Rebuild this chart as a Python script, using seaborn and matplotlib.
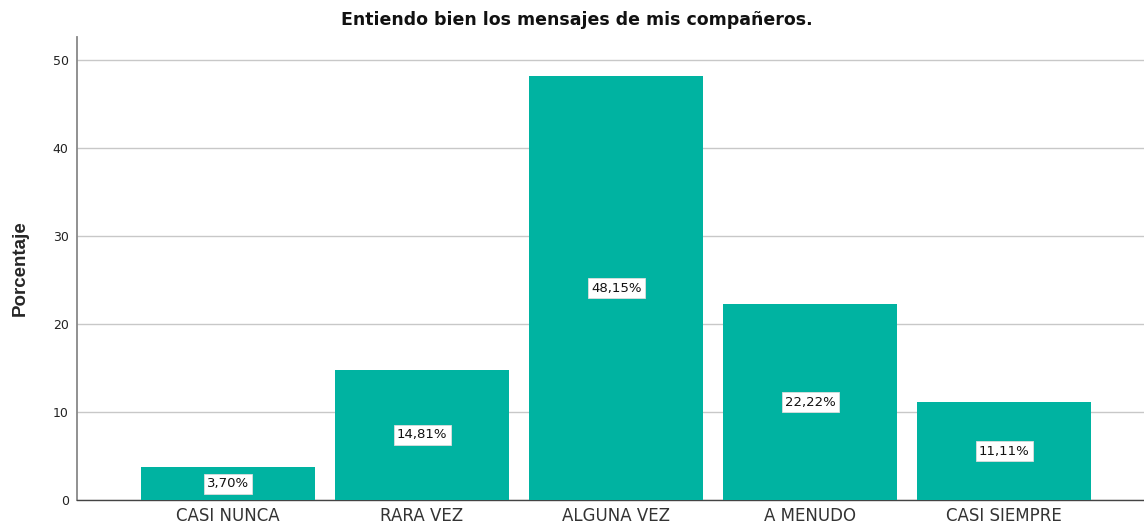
import matplotlib
matplotlib.use("Agg")
import matplotlib.pyplot as plt
import seaborn as sns
import pandas as pd

categories = ["CASI NUNCA", "RARA VEZ", "ALGUNA VEZ", "A MENUDO", "CASI SIEMPRE"]
values = [3.70, 14.81, 48.15, 22.22, 11.11]
labels = ["3,70%", "14,81%", "48,15%", "22,22%", "11,11%"]
yticks = [0, 10, 20, 30, 40, 50]
title = "Entiendo bien los mensajes de mis compañeros."
ylabel = "Porcentaje"

sns.set_theme(style="white")
plt.rcParams['font.family'] = ['Liberation Sans', 'DejaVu Sans']

df = pd.DataFrame({"cat": categories, "val": values})

fig = plt.figure(figsize=(11.44, 5.28), dpi=100)
ax = fig.add_axes([77/1144, 28/528, 1 - 77/1144, (500-37)/528])

sns.barplot(data=df, x="cat", y="val", color="#00B3A1", saturation=1,
            width=0.897, ax=ax, zorder=3, edgecolor="none")

ax.set_xlim(-0.778, 4.72)
ax.set_ylim(0, 52.6)
ax.set_yticks(yticks)
ax.set_yticklabels([str(t) for t in yticks], fontsize=9, color="#222222",
                   family=['DejaVu Sans'])
ax.yaxis.grid(True, color="#c8c8c8", linewidth=1, zorder=0)
ax.set_axisbelow(True)
ax.tick_params(axis="y", length=0, pad=6)
ax.tick_params(axis="x", length=0, pad=5)
for t in ax.get_xticklabels():
    t.set_fontfamily(['DejaVu Sans'])
    t.set_fontsize(12)
    t.set_color("#333333")

for s in ["top", "right"]:
    ax.spines[s].set_visible(False)
ax.spines["left"].set_color("#888888")
ax.spines["left"].set_linewidth(1.3)
ax.spines["bottom"].set_color("#444444")
ax.spines["bottom"].set_linewidth(1.0)

ax.set_xlabel("")
ax.set_ylabel(ylabel, fontsize=13.5, fontweight="bold",
              family=['Liberation Sans Narrow', 'Liberation Sans', 'DejaVu Sans'],
              labelpad=17)

for i, (v, lab) in enumerate(zip(values, labels)):
    ax.text(i, v / 2, lab, ha="center", va="center", fontsize=9.5, color="#111111",
            zorder=5, family=['DejaVu Sans'],
            bbox=dict(boxstyle="square,pad=0.25", facecolor="white", edgecolor="#dddddd", linewidth=0.6))

fig.text(577/1144, 1 - 20/528, title, ha="center", va="center",
         fontsize=12.5, fontweight="bold", color="#111111", family=['DejaVu Sans'])

fig.savefig("out.png", dpi=100)
